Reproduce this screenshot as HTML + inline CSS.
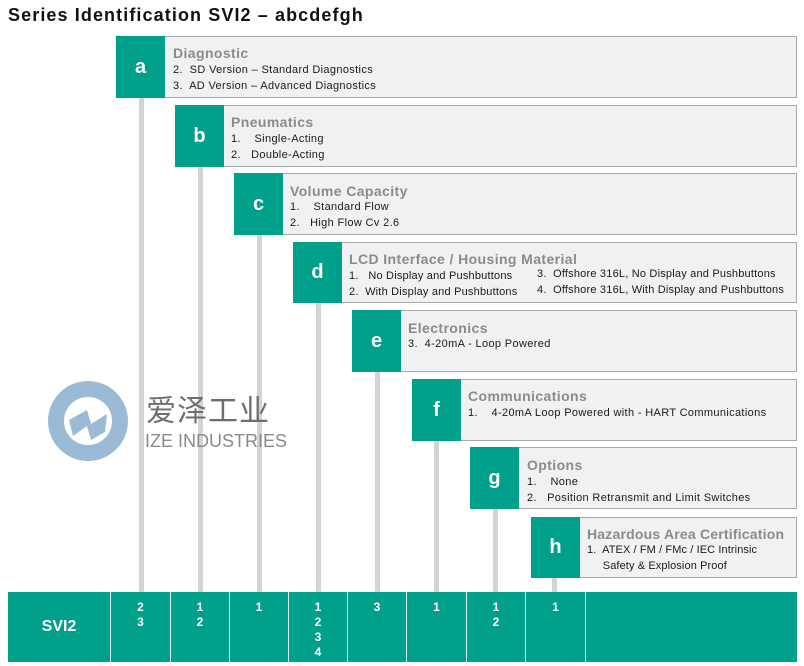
<!DOCTYPE html>
<html><head><meta charset="utf-8"><style>
body{margin:0;width:804px;height:666px;background:#fff;position:relative;overflow:hidden;font-family:"Liberation Sans",sans-serif;}
.a{position:absolute}
.title{left:8px;top:5px;font-size:18px;font-weight:bold;color:#111;letter-spacing:1.1px}
.line{position:absolute;width:5px;background:#d2d3d5}
.box{position:absolute;background:#f0f1f3;border:1px solid #a8a9ab;box-sizing:border-box;right:7px}
.g{position:absolute;background:#00a08a;color:#fff;font-weight:bold;font-size:20px;display:flex;align-items:center;justify-content:center;width:49px}
.h{position:absolute;font-size:14px;font-weight:bold;color:#8a8b8d;white-space:nowrap;letter-spacing:0.4px}
.t{position:absolute;font-size:11px;color:#1a1a1a;line-height:16px;white-space:nowrap;letter-spacing:0.35px}
.bar{position:absolute;left:8px;top:592px;width:789px;height:70px;background:#00a08a}
.col{position:absolute;top:592px;height:70px;border-left:1px solid #d8efe9;color:#fff;font-weight:bold;font-size:12px;text-align:center;line-height:15px;padding-top:8px;box-sizing:border-box}
</style></head><body>
<div class="a title">Series Identification SVI2 – abcdefgh</div>

<div class="line" style="left:139px;top:97px;height:495px"></div>
<div class="line" style="left:198px;top:166px;height:426px"></div>
<div class="line" style="left:257px;top:235px;height:357px"></div>
<div class="line" style="left:316px;top:302px;height:290px"></div>
<div class="line" style="left:375px;top:371px;height:221px"></div>
<div class="line" style="left:434px;top:440px;height:152px"></div>
<div class="line" style="left:493px;top:508px;height:84px"></div>
<div class="line" style="left:552px;top:577px;height:15px"></div>

<!-- watermark -->
<svg class="a" style="left:47px;top:380px" width="82" height="82" viewBox="0 0 82 82">
<circle cx="41" cy="41" r="32" fill="none" stroke="#9bbad6" stroke-width="16"/>
<path d="M22 40 L40 30 L44 44 L60 34 L58 52 L44 60 L40 46 L26 56 Z" fill="#9bbad6"/>
</svg>
<div class="a" style="left:146px;top:391px;font-size:30px;color:#6e6e6e;font-family:'Noto Sans CJK SC',sans-serif;line-height:34px;letter-spacing:1px">爱泽工业</div>
<div class="a" style="left:145px;top:430px;font-size:18px;color:#8a8a8a;line-height:22px">IZE INDUSTRIES</div>

<div class="box" style="left:116px;top:36px;height:62px"></div>
<div class="g" style="left:116px;top:36px;height:62px">a</div>
<div class="h" style="left:173px;top:45px">Diagnostic</div>
<div class="t" style="left:173px;top:62px">2.&nbsp; SD Version – Standard Diagnostics<br>3.&nbsp; AD Version – Advanced Diagnostics</div>

<div class="box" style="left:175px;top:105px;height:62px"></div>
<div class="g" style="left:175px;top:105px;height:62px">b</div>
<div class="h" style="left:231px;top:114px">Pneumatics</div>
<div class="t" style="left:231px;top:131px">1.&nbsp;&nbsp;&nbsp; Single-Acting<br>2.&nbsp;&nbsp; Double-Acting</div>

<div class="box" style="left:234px;top:173px;height:62px"></div>
<div class="g" style="left:234px;top:173px;height:62px">c</div>
<div class="h" style="left:290px;top:183px">Volume Capacity</div>
<div class="t" style="left:290px;top:199px">1.&nbsp;&nbsp;&nbsp; Standard Flow<br>2.&nbsp;&nbsp; High Flow Cv 2.6</div>

<div class="box" style="left:293px;top:242px;height:61px"></div>
<div class="g" style="left:293px;top:242px;height:61px">d</div>
<div class="h" style="left:349px;top:251px">LCD Interface / Housing Material</div>
<div class="t" style="left:349px;top:268px;letter-spacing:0.2px">1.&nbsp;&nbsp; No Display and Pushbuttons<br>2.&nbsp; With Display and Pushbuttons</div>
<div class="t" style="left:537px;top:266px;letter-spacing:0.2px">3.&nbsp; Offshore 316L, No Display and Pushbuttons<br>4.&nbsp; Offshore 316L, With Display and Pushbuttons</div>

<div class="box" style="left:352px;top:310px;height:62px"></div>
<div class="g" style="left:352px;top:310px;height:62px">e</div>
<div class="h" style="left:408px;top:320px">Electronics</div>
<div class="t" style="left:408px;top:336px">3.&nbsp; 4-20mA - Loop Powered</div>

<div class="box" style="left:412px;top:379px;height:62px"></div>
<div class="g" style="left:412px;top:379px;height:62px">f</div>
<div class="h" style="left:468px;top:388px">Communications</div>
<div class="t" style="left:468px;top:405px">1.&nbsp;&nbsp;&nbsp; 4-20mA Loop Powered with - HART Communications</div>

<div class="box" style="left:470px;top:447px;height:62px"></div>
<div class="g" style="left:470px;top:447px;height:62px">g</div>
<div class="h" style="left:527px;top:457px">Options</div>
<div class="t" style="left:527px;top:474px">1.&nbsp;&nbsp;&nbsp; None<br>2.&nbsp;&nbsp; Position Retransmit and Limit Switches</div>

<div class="box" style="left:531px;top:517px;height:61px"></div>
<div class="g" style="left:531px;top:517px;height:61px">h</div>
<div class="h" style="left:587px;top:526px;letter-spacing:0.2px">Hazardous Area Certification</div>
<div class="t" style="left:587px;top:542px;letter-spacing:0.1px">1.&nbsp; ATEX / FM / FMc / IEC Intrinsic<br>&nbsp;&nbsp;&nbsp;&nbsp; Safety &amp; Explosion Proof</div>

<div class="bar"></div>
<div class="a" style="left:8px;top:592px;width:102px;height:70px;color:#fff;font-weight:bold;font-size:16px;display:flex;align-items:center;justify-content:center">SVI2</div>
<div class="col" style="left:110px;width:60px">2<br>3</div>
<div class="col" style="left:170px;width:59px">1<br>2</div>
<div class="col" style="left:229px;width:59px">1</div>
<div class="col" style="left:288px;width:59px">1<br>2<br>3<br>4</div>
<div class="col" style="left:347px;width:59px">3</div>
<div class="col" style="left:406px;width:60px">1</div>
<div class="col" style="left:466px;width:59px">1<br>2</div>
<div class="col" style="left:525px;width:60px">1</div>
<div class="col" style="left:585px;width:212px"></div>
</body></html>
